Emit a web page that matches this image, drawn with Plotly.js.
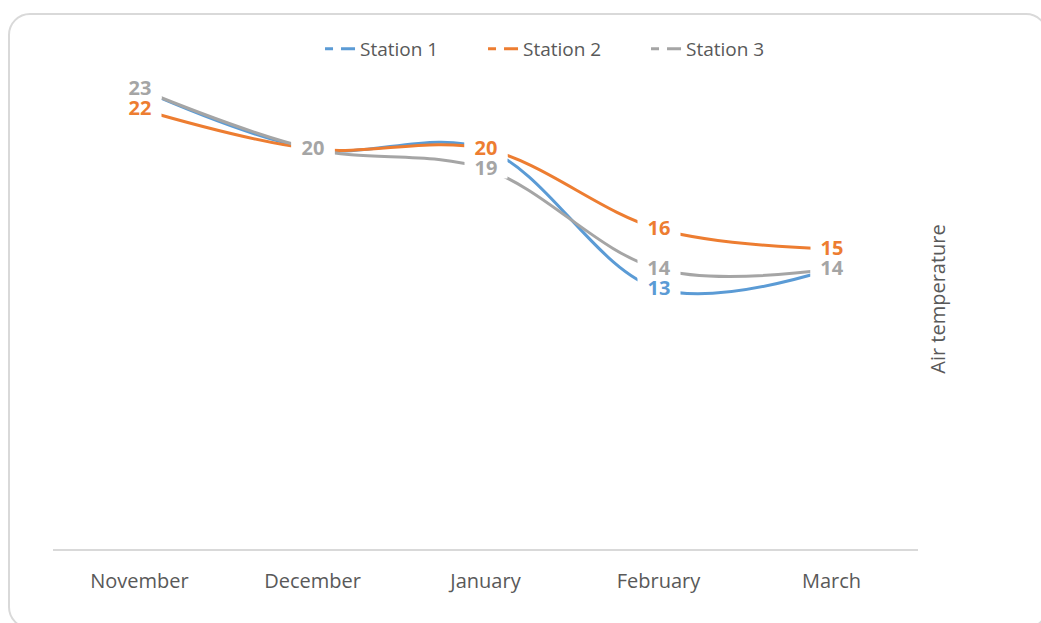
<!DOCTYPE html>
<html>
<head>
<meta charset="utf-8">
<script src="https://cdn.plot.ly/plotly-3.0.1.min.js"></script>
<style>
  html, body { margin: 0; padding: 0; background: #fff; overflow: hidden; }
  #wrap { position: relative; width: 1041px; height: 623px; }
  #chart { position: absolute; left: 0; top: 0; width: 1041px; height: 623px; }
  #frame { position: absolute; left: 8px; top: 13px; width: 1036px; height: 612px;
           border: 2px solid #d9d9d9; border-radius: 22px; pointer-events: none; }
</style>
</head>
<body>
<div id="wrap">
  <div id="chart"></div>
  <div id="frame"></div>
</div>
<script>
const months = ["November", "December", "January", "February", "March"];
const seriesNames = ["Station 1", "Station 2", "Station 3"];
const station1 = [23, 20, 20, 13, 14];
const station2 = [22, 20, 20, 16, 15];
const station3 = [23, 20, 19, 14, 14];
const yTitle = "Air temperature";

const colors = ["#5B9BD5", "#ED7D31", "#A5A5A5"];
const allSeries = [station1, station2, station3];
const FONT = "Open Sans, Noto Sans, sans-serif";

const traces = [];
allSeries.forEach((vals, i) => {
  traces.push({
    x: months, y: vals, type: "scatter", mode: "lines",
    line: { color: colors[i], width: 3, shape: "spline", smoothing: 1 },
    showlegend: false, hoverinfo: "skip"
  });
});
// legend-only entries with dashed symbols
allSeries.forEach((vals, i) => {
  traces.push({
    x: [null], y: [null], type: "scatter", mode: "lines",
    name: seriesNames[i],
    line: { color: colors[i], width: 3, dash: "8px,8px,14px,30px" },
    showlegend: true
  });
});

const annotations = [];
allSeries.forEach((vals, i) => {
  vals.forEach((v, j) => {
    annotations.push({
      x: months[j], y: v, xref: "x", yref: "y",
      text: "<b>" + v + "</b>", showarrow: false,
      font: { family: FONT, size: 20, color: colors[i] },
      bgcolor: "#ffffff", width: 40, height: 19, borderpad: 1,
      xanchor: "center", yanchor: "middle", yshift: 2
    });
  });
});

const layout = {
  width: 1041, height: 623,
  margin: { l: 53, r: 123, t: 49, b: 74 },
  paper_bgcolor: "rgba(0,0,0,0)", plot_bgcolor: "rgba(0,0,0,0)",
  font: { family: FONT, color: "#595959" },
  showlegend: true,
  legend: {
    orientation: "h", x: 0.3087, xanchor: "left", y: 1.0, yanchor: "middle",
    font: { family: FONT, size: 19, color: "#595959" },
    entrywidth: 118, bgcolor: "rgba(0,0,0,0)"
  },
  xaxis: {
    type: "category", range: [-0.5, 4.5],
    showline: true, linecolor: "#d9d9d9", linewidth: 2,
    showgrid: false, zeroline: false, ticks: "",
    tickfont: { family: FONT, size: 20, color: "#595959" },
    ticklabelstandoff: 13, fixedrange: true
  },
  yaxis: {
    range: [0, 25], side: "right",
    showline: false, showgrid: false, zeroline: false,
    showticklabels: false, ticks: "",
    title: { text: yTitle, font: { family: FONT, size: 20, color: "#595959" }, standoff: 12 },
    fixedrange: true
  },
  annotations: annotations
};

Plotly.newPlot("chart", traces, layout, { displayModeBar: false, staticPlot: true });
</script>
</body>
</html>
